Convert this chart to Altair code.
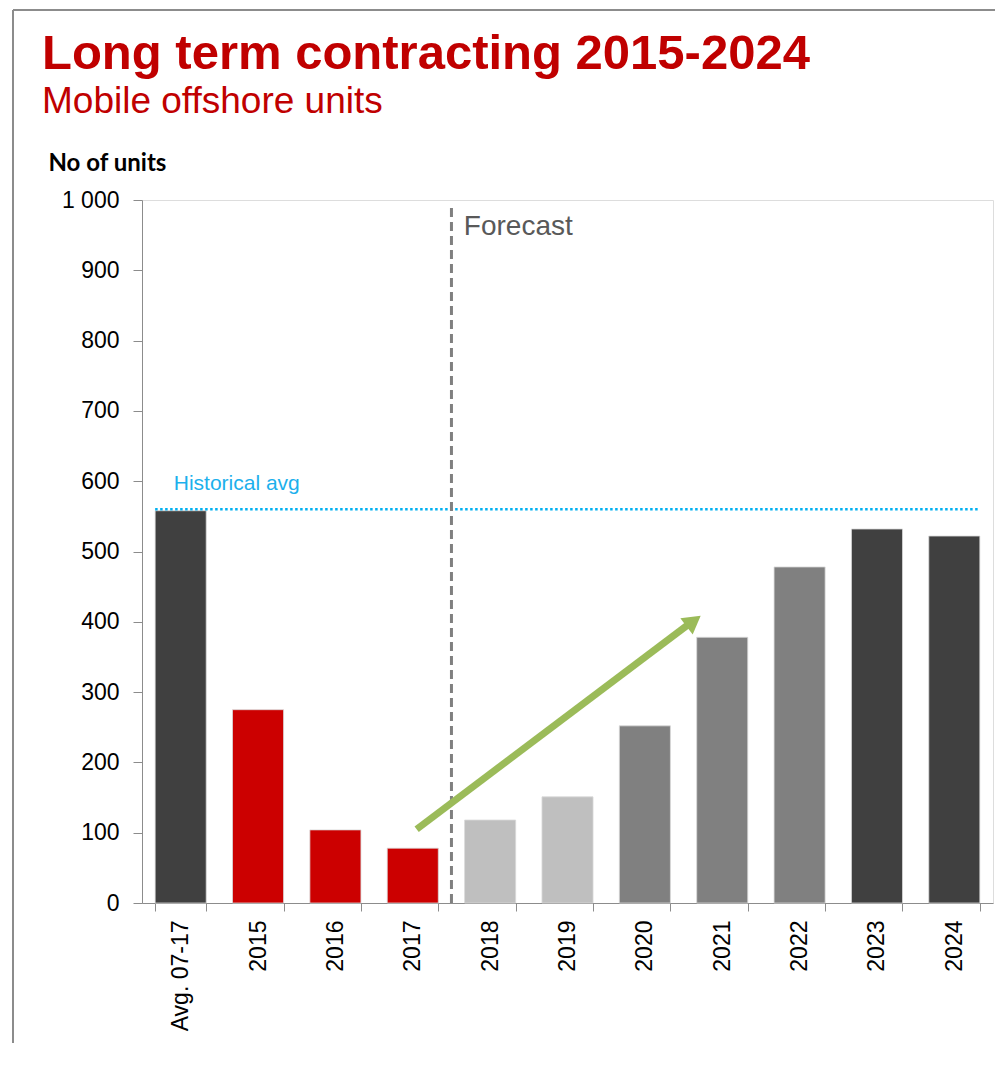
import altair as alt
import pandas as pd

# ---------------- data ----------------
categories = ["Avg. 07-17", "2015", "2016", "2017", "2018", "2019",
              "2020", "2021", "2022", "2023", "2024"]
units = [558, 275, 104, 78, 118, 151, 252, 378, 478, 532, 522]
groups = ["Average", "Actual", "Actual", "Actual",
          "Forecast near", "Forecast near",
          "Forecast mid", "Forecast mid", "Forecast mid",
          "Forecast late", "Forecast late"]

group_domain = ["Average", "Actual", "Forecast near", "Forecast mid", "Forecast late"]
group_colors = ["#404040", "#CC0000", "#BFBFBF", "#808080", "#404040"]

# annotations (x in category slots: 0 = left edge of first category)
historical_avg = 560
hist_x = [0.17, 10.83]
hist_label_x = 0.41
forecast_x = 4
forecast_y = [0, 995]
forecast_label_x = 4.16
arrow_x = [3.55, 7.06]
arrow_y = [105, 396]
arrow_head_x = [7.13]
arrow_head_y = [401]

df = pd.DataFrame({"category": categories, "units": units, "group": groups})

W, H = 851, 703
xq = alt.Scale(domain=[0, len(categories)], nice=False, zero=False)
yscale = alt.Scale(domain=[0, 1000], nice=False)

bars = alt.Chart(df).mark_bar(stroke="#d9d9d9", strokeWidth=0.8).encode(
    x=alt.X("category:N", sort=categories,
            scale=alt.Scale(paddingInner=0.34, paddingOuter=0.17),
            axis=alt.Axis(title=None, labelAngle=-90, labelFontSize=23,
                          labelFont="Liberation Sans", labelColor="#000000",
                          labelPadding=9, tickSize=8, tickBand="extent",
                          domainColor="#8c8c8c", tickColor="#8c8c8c",
                          labelAlign="right", labelBaseline="middle")),
    y=alt.Y("units:Q", scale=yscale,
            axis=alt.Axis(title="No of units", titleAngle=0, titleAlign="left",
                          titleBaseline="alphabetic", titleX=-94, titleY=-30,
                          titleFont="Lato", titleFontSize=24, titleFontWeight="bold",
                          titleColor="#000000",
                          values=list(range(0, 1001, 100)),
                          labelExpr="replace(format(datum.value, ',d'), ',', ' ')",
                          labelFontSize=23, labelFont="Liberation Sans",
                          labelColor="#000000", labelPadding=14,
                          tickSize=9, grid=False,
                          domainColor="#8c8c8c", tickColor="#8c8c8c")),
    color=alt.Color("group:N", scale=alt.Scale(domain=group_domain, range=group_colors),
                    legend=None),
)

hist_df = pd.DataFrame({"x": [hist_x[0]], "x2": [hist_x[1]], "y": [historical_avg],
                        "lx": [hist_label_x], "label": ["Historical avg"]})
hist_line = alt.Chart(hist_df).mark_rule(color="#00B0F0", strokeWidth=2.5,
                                         strokeDash=[2.5, 2.5]).encode(
    x=alt.X("x:Q", scale=xq, axis=None), x2="x2:Q", y=alt.Y("y:Q", scale=yscale))
hist_text = alt.Chart(hist_df).mark_text(align="left", baseline="alphabetic", dy=-19,
                                         fontSize=21, font="Liberation Sans",
                                         color="#1CB0EC").encode(
    x=alt.X("lx:Q", scale=xq, axis=None), y=alt.Y("y:Q", scale=yscale), text="label:N")

fc_df = pd.DataFrame({"x": [forecast_x], "y": [forecast_y[0]], "y2": [forecast_y[1]],
                      "lx": [forecast_label_x], "ly": [1000], "label": ["Forecast"]})
fc_line = alt.Chart(fc_df).mark_rule(color="#808080", strokeWidth=3,
                                     strokeDash=[9, 5]).encode(
    x=alt.X("x:Q", scale=xq, axis=None), y=alt.Y("y:Q", scale=yscale), y2="y2:Q")
fc_text = alt.Chart(fc_df).mark_text(align="left", baseline="alphabetic", dy=35,
                                     fontSize=28, font="Liberation Sans",
                                     color="#595959").encode(
    x=alt.X("lx:Q", scale=xq, axis=None), y=alt.Y("ly:Q", scale=yscale), text="label:N")

arrow_df = pd.DataFrame({"x": [arrow_x[0]], "x2": [arrow_x[1]],
                         "y": [arrow_y[0]], "y2": [arrow_y[1]]})
arrow_line = alt.Chart(arrow_df).mark_rule(color="#9BBB59", strokeWidth=7,
                                           strokeCap="butt").encode(
    x=alt.X("x:Q", scale=xq, axis=None), x2="x2:Q",
    y=alt.Y("y:Q", scale=yscale), y2="y2:Q")
head_df = pd.DataFrame({"x": arrow_head_x, "y": arrow_head_y})
arrow_head = alt.Chart(head_df).mark_point(shape="triangle-up", filled=True,
                                           color="#9BBB59", opacity=1,
                                           size=420, angle=53).encode(
    x=alt.X("x:Q", scale=xq, axis=None), y=alt.Y("y:Q", scale=yscale))

frame_df = pd.DataFrame({"k": [0]})
frame_left = alt.Chart(frame_df).mark_rule(color="#8c8c8c", strokeWidth=2).encode(
    x=alt.value(-129), y=alt.value(-190), y2=alt.value(H + 160))
frame_top = alt.Chart(frame_df).mark_rule(color="#8c8c8c", strokeWidth=2).encode(
    x=alt.value(-129), x2=alt.value(W + 2), y=alt.value(-190))

chart = alt.layer(
    bars, hist_line, hist_text, fc_line, fc_text, arrow_line, arrow_head,
    frame_left, frame_top
).resolve_scale(x="independent").properties(
    width=W, height=H,
    autosize=alt.AutoSizeParams(type="none"),
    padding={"left": 134, "top": 192, "right": 2, "bottom": 140},
    title=alt.TitleParams(
        text="Long term contracting 2015-2024",
        subtitle="Mobile offshore units",
        anchor="start", frame="group", dx=-100, dy=111, offset=0,
        font="Liberation Sans", fontSize=49, fontWeight="bold", color="#C00000",
        subtitleFont="Liberation Sans", subtitleFontSize=37, subtitleColor="#C00000",
        subtitlePadding=5,
    ),
).configure_view(stroke=None).configure(background="white")

chart.save("out.html", embed_options={"renderer": "svg", "actions": False})
